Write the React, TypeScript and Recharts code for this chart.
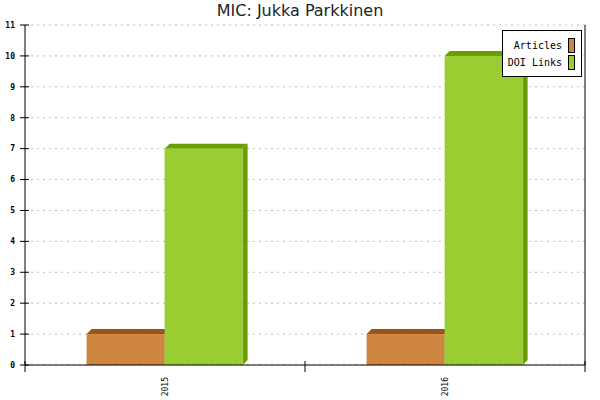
import React from 'react';
import { BarChart, Bar, XAxis, YAxis, CartesianGrid } from 'recharts';

const years = ['2015', '2016'];
const articles = [1, 1];
const doiLinks = [7, 10];
const yTicks = [0, 1, 2, 3, 4, 5, 6, 7, 8, 9, 10, 11];

const series = [
  { key: 'articles', name: 'Articles', front: '#CD853F', dark: '#9A5416' },
  { key: 'doi', name: 'DOI Links', front: '#9ACD32', dark: '#6A9E00' },
];

const data = years.map((year, i) => ({ year, articles: articles[i], doi: doiLinks[i] }));

const DEPTH = 5;
const mono = '"DejaVu Sans Mono", monospace';

// front face + top + right side, like the old 3d bar charts
const Bar3D = (props: any) => {
  const { x, y, width, height, front, dark } = props;
  if (!height || height <= 0) return null;
  const d = DEPTH;
  const top = `${x},${y} ${x + d},${y - d} ${x + width + d},${y - d} ${x + width},${y}`;
  const side = `${x + width},${y} ${x + width + d},${y - d} ${x + width + d},${y + height - d} ${x + width},${y + height}`;
  return (
    <g>
      <polygon points={top} fill={dark} />
      <polygon points={side} fill={dark} />
      <rect x={x} y={y} width={width} height={height} fill={front} />
    </g>
  );
};

const YTick = (props: any) => {
  const { x, y, payload } = props;
  return (
    <g>
      <line x1={x - 5} x2={x + 4} y1={y} y2={y} stroke="#000" />
      <text x={x - 10} y={y} dy="0.35em" textAnchor="end" fontFamily={mono} fontSize={8} fontWeight="bold" fill="#000">
        {payload.value}
      </text>
    </g>
  );
};

const XTick = (props: any) => {
  const { x, y, payload, index, visibleTicksCount } = props;
  const off = payload.offset || 140;
  const last = index === (visibleTicksCount || years.length) - 1;
  return (
    <g>
      <line x1={x - off} x2={x - off} y1={y - 4} y2={y + 7} stroke="#000" />
      {last && <line x1={x + off} x2={x + off} y1={y - 4} y2={y + 7} stroke="#000" />}
      <text
        x={x}
        y={y + 12}
        dy="0.35em"
        transform={`rotate(-90 ${x} ${y + 12})`}
        textAnchor="end"
        fontFamily={mono}
        fontSize={8}
        fill="#000"
      >
        {payload.value}
      </text>
    </g>
  );
};

export default function App() {
  return (
    <div style={{ position: 'absolute', left: 0, top: 0, width: 600, height: 400, background: '#fff' }}>
      <div
        style={{
          position: 'absolute',
          top: 1,
          width: 600,
          textAlign: 'center',
          fontFamily: '"DejaVu Sans", sans-serif',
          fontSize: 16,
          color: '#222',
        }}
      >
        MIC: Jukka Parkkinen
      </div>
      <BarChart
        width={600}
        height={400}
        data={data}
        margin={{ top: 25, right: 0, bottom: 0, left: 0 }}
        barCategoryGap="22%"
        barGap={0}
      >
        <CartesianGrid vertical={false} stroke="#bbb" strokeDasharray="2 4" />
        <XAxis
          dataKey="year"
          height={35}
          tickSize={0}
          tickMargin={0}
          tickLine={false}
          axisLine={{ stroke: '#000' }}
          tick={<XTick />}
          interval={0}
        />
        <YAxis
          width={25}
          domain={[0, 11]}
          ticks={yTicks}
          interval={0}
          tickSize={0}
          tickMargin={0}
          tickLine={false}
          axisLine={{ stroke: '#000' }}
          tick={<YTick />}
        />
        <YAxis
          yAxisId="right"
          orientation="right"
          width={15}
          tick={false}
          tickLine={false}
          axisLine={{ stroke: '#000' }}
        />
        {series.map((s) => (
          <Bar
            key={s.key}
            dataKey={s.key}
            name={s.name}
            fill={s.front}
            isAnimationActive={false}
            shape={(p: any) => <Bar3D {...p} front={s.front} dark={s.dark} />}
          />
        ))}
      </BarChart>
      <div
        style={{
          position: 'absolute',
          left: 502,
          top: 30,
          width: 78,
          height: 45,
          border: '1px solid #000',
          background: '#fff',
          fontFamily: mono,
          fontSize: 10,
          boxSizing: 'content-box',
        }}
      >
        {series.map((s, i) => (
          <div
            key={s.key}
            style={{
              position: 'absolute',
              right: 6,
              top: 7 + i * 17,
              display: 'flex',
              alignItems: 'center',
              gap: 6,
              color: '#000',
            }}
          >
            <span>{s.name}</span>
            <span style={{ width: 5, height: 13, background: s.front, border: '1px solid #000' }} />
          </div>
        ))}
      </div>
    </div>
  );
}
